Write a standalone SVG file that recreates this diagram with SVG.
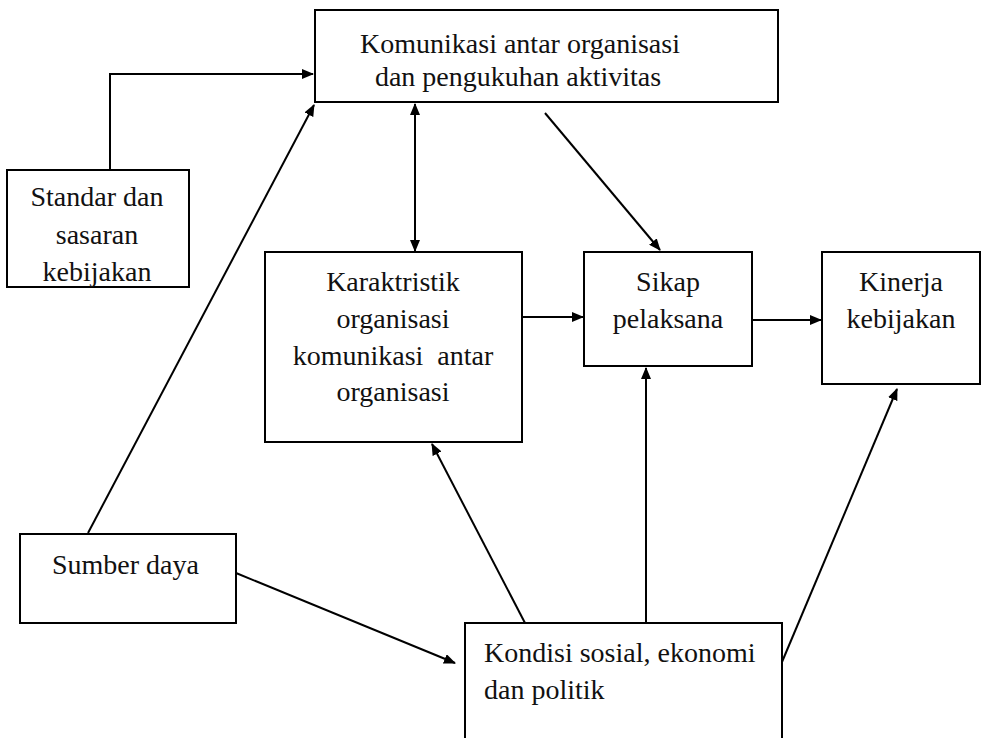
<svg xmlns="http://www.w3.org/2000/svg" width="987" height="738" viewBox="0 0 987 738">
<defs>
<marker id="ah" viewBox="0 0 12 10" refX="11" refY="5" markerWidth="12" markerHeight="10" markerUnits="userSpaceOnUse" orient="auto-start-reverse">
<path d="M0,0 L12,5 L0,10 z" fill="#000"/>
</marker>
</defs>
<style>
.box{fill:#fff;stroke:#000;stroke-width:2}
.t{font-size:28px;fill:#111}
.c{text-anchor:middle}
.ln{fill:none;stroke:#000;stroke-width:2}
</style>
<rect width="987" height="738" fill="#fff"/>
<g id="connectors">
<path class="ln" d="M110,170 V74 H313" marker-end="url(#ah)"/>
<line class="ln" x1="88" y1="533" x2="314" y2="105" marker-end="url(#ah)"/>
<line class="ln" x1="415" y1="104" x2="415" y2="251" marker-start="url(#ah)" marker-end="url(#ah)"/>
<line class="ln" x1="545" y1="113" x2="660" y2="250" marker-end="url(#ah)"/>
<line class="ln" x1="522" y1="317" x2="583" y2="317" marker-end="url(#ah)"/>
<line class="ln" x1="752" y1="320" x2="821" y2="320" marker-end="url(#ah)"/>
<line class="ln" x1="525" y1="623" x2="432" y2="444" marker-end="url(#ah)"/>
<line class="ln" x1="646" y1="623" x2="646" y2="368" marker-end="url(#ah)"/>
<line class="ln" x1="782" y1="662" x2="897" y2="389" marker-end="url(#ah)"/>
<line class="ln" x1="236" y1="573" x2="455" y2="663" marker-end="url(#ah)"/>
</g>
<g font-family="'Liberation Serif', 'Times New Roman', 'DejaVu Serif', serif" class="t">
<g id="komunikasi">
<rect class="box" x="315" y="10" width="463" height="92"/>
<text class="c" x="520" y="53">Komunikasi antar organisasi</text>
<text class="c" x="518" y="86">dan pengukuhan aktivitas</text>
</g>
<g id="standar">
<rect class="box" x="7" y="170" width="182" height="117"/>
<text class="c" x="97" y="206">Standar dan</text>
<text class="c" x="97" y="244">sasaran</text>
<text class="c" x="97" y="281">kebijakan</text>
</g>
<g id="karaktristik">
<rect class="box" x="265" y="252" width="257" height="190"/>
<text class="c" x="393" y="291">Karaktristik</text>
<text class="c" x="393" y="328">organisasi</text>
<text class="c" x="393" y="365" xml:space="preserve">komunikasi  antar</text>
<text class="c" x="393" y="401">organisasi</text>
</g>
<g id="sikap">
<rect class="box" x="584" y="252" width="168" height="114"/>
<text class="c" x="668" y="291">Sikap</text>
<text class="c" x="668" y="328">pelaksana</text>
</g>
<g id="kinerja">
<rect class="box" x="822" y="252" width="158" height="132"/>
<text class="c" x="901" y="291">Kinerja</text>
<text class="c" x="901" y="328">kebijakan</text>
</g>
<g id="sumber">
<rect class="box" x="20" y="534" width="216" height="89"/>
<text x="52" y="574">Sumber daya</text>
</g>
<g id="kondisi">
<rect class="box" x="465" y="623" width="317" height="125"/>
<text x="484" y="662">Kondisi sosial, ekonomi</text>
<text x="484" y="699">dan politik</text>
</g>
</g>
</svg>
